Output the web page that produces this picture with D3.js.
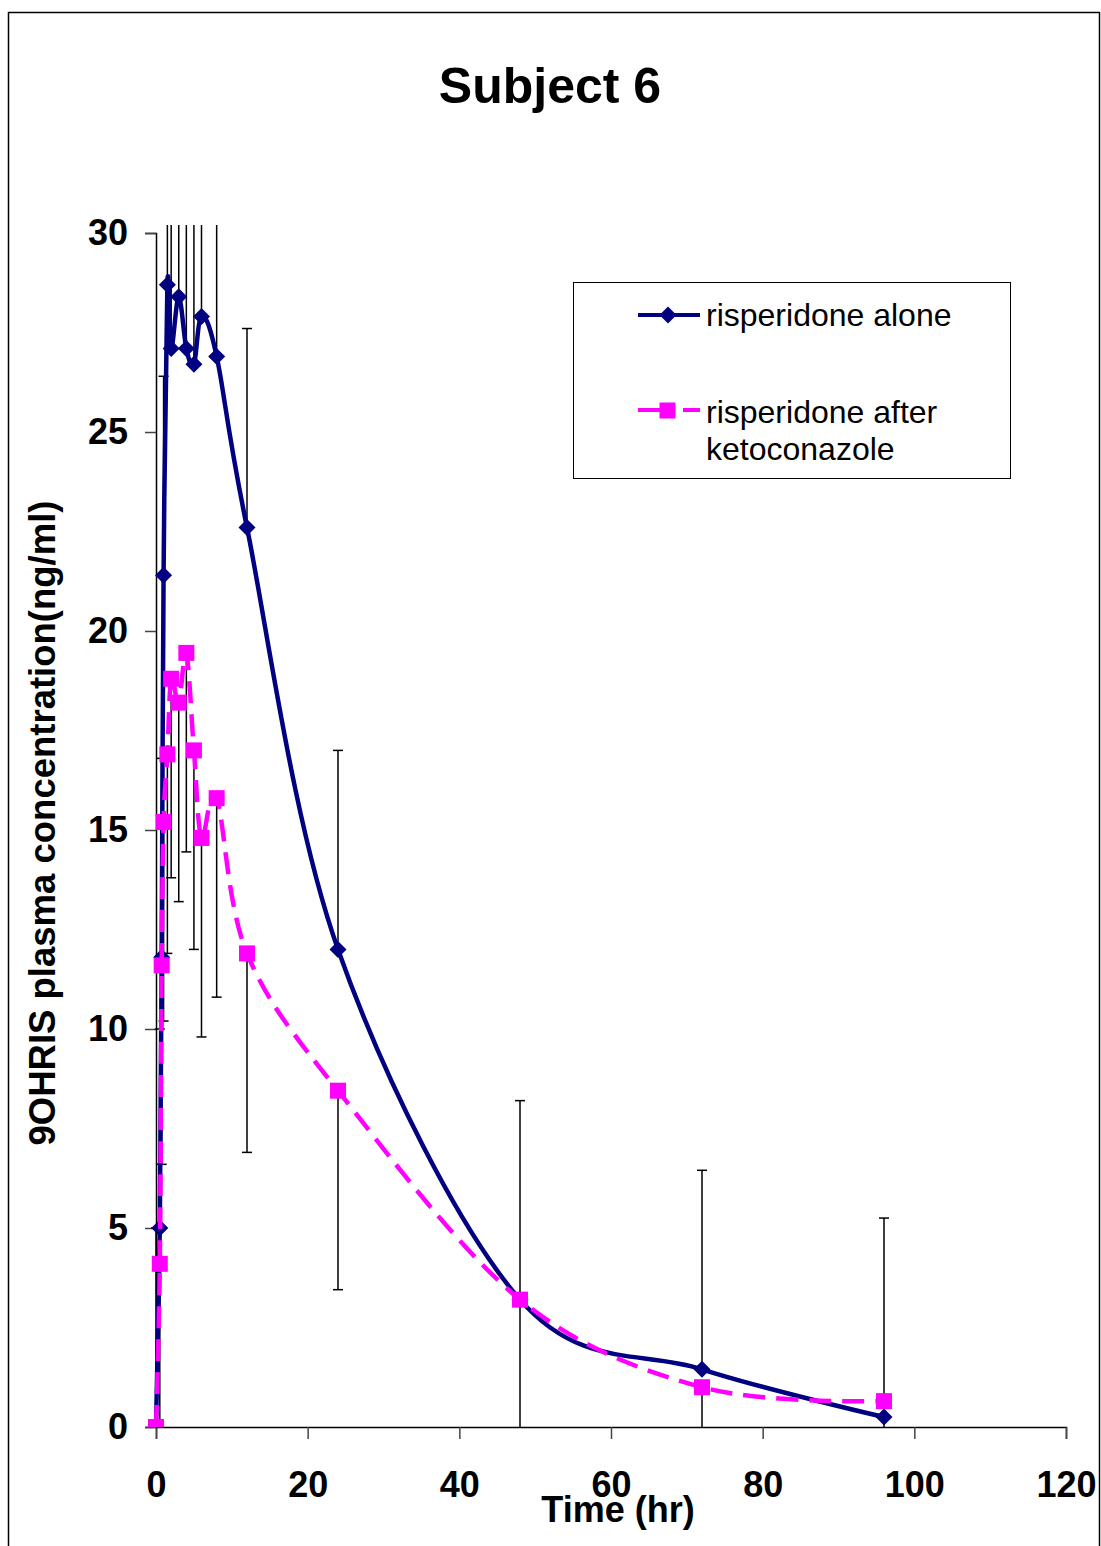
<!DOCTYPE html>
<html>
<head>
<meta charset="utf-8">
<script src="https://cdn.jsdelivr.net/npm/d3@7"></script>
<style>
  html, body { margin: 0; padding: 0; background: #fff; }
  svg { display: block; font-family: "Liberation Sans", Arial, sans-serif; }
</style>
</head>
<body>
<div id="chart"></div>
<script>
// sampling times (hr) and mean 9OHRIS concentrations (ng/ml)
const times = [0, 0.5, 0.75, 1, 1.5, 2, 3, 4, 5, 6, 8, 12, 24, 48, 72, 96];
const alone = [0, 5.0, 11.8, 21.4, 28.7, 27.1, 28.4, 27.1, 26.7, 27.9, 26.9, 22.6, 12.0, 3.2, 1.45, 0.25];
const afterKeto = [0, 4.1, 11.6, 15.2, 16.9, 18.8, 18.2, 19.45, 17.0, 14.8, 15.8, 11.9, 8.45, 3.2, 1.0, 0.65];
// error bars: plus for "alone", minus for "after ketoconazole"
const aloneErr = [5, 5, 5, 5, 5, 5, 5, 5, 5, 5, 5, 5, 5, 5, 5, 5];
const ketoErr = [5, 5, 5, 5, 5, 5, 5, 5, 5, 5, 5, 5, 5, 5, 5, 5];

const xTicks = [0, 20, 40, 60, 80, 100, 120];
const yTicks = [0, 5, 10, 15, 20, 25, 30];
const seriesNames = ["risperidone alone", "risperidone after", "ketoconazole"];

const W = 1101, H = 1546;
const svg = d3.select("#chart").append("svg")
    .attr("width", W).attr("height", H);

// outer frame
svg.append("rect")
    .attr("x", 8.5).attr("y", 12.5)
    .attr("width", 1091).attr("height", 1545)
    .attr("fill", "none").attr("stroke", "#000").attr("stroke-width", 1.5);

const x = d3.scaleLinear().domain([0, 120]).range([156, 1066]);
const y = d3.scaleLinear().domain([0, 30]).range([1427, 233]);

svg.append("text")
    .attr("x", 550).attr("y", 103)
    .attr("text-anchor", "middle")
    .attr("font-size", 50).attr("font-weight", "bold")
    .text("Subject 6");

// axes
const xAxis = svg.append("g")
    .attr("transform", `translate(0,${y(0)})`)
    .call(d3.axisBottom(x).tickValues(xTicks).tickSize(12).tickPadding(30));
const yAxis = svg.append("g")
    .attr("transform", `translate(${x(0)},0)`)
    .call(d3.axisLeft(y).tickValues(yTicks).tickSize(11).tickPadding(17));

[xAxis, yAxis].forEach(g => {
    g.select(".domain").attr("stroke", "#000").attr("stroke-width", 1.5);
    g.selectAll(".tick line").attr("stroke", "#444").attr("stroke-width", 1.5);
    g.selectAll(".tick text")
        .attr("font-size", 36).attr("font-weight", "bold")
        .attr("font-family", "Liberation Sans, Arial, sans-serif")
        .attr("fill", "#000");
});
xAxis.selectAll(".tick text").attr("dy", 0).attr("y", 70);

svg.append("text")
    .attr("x", 618).attr("y", 1522)
    .attr("text-anchor", "middle")
    .attr("font-size", 36).attr("font-weight", "bold")
    .text("Time (hr)");

svg.append("text")
    .attr("transform", "translate(55,823) rotate(-90)")
    .attr("text-anchor", "middle")
    .attr("font-size", 36.5).attr("font-weight", "bold")
    .text("9OHRIS plasma concentration(ng/ml)");

// plot clip
svg.append("clipPath").attr("id", "plotClip")
    .append("rect").attr("x", 140).attr("y", 225).attr("width", 940).attr("height", 1202);

const plot = svg.append("g").attr("clip-path", "url(#plotClip)");

// error bars
function errorBars(vals, errs, sign) {
    const g = plot.append("g").attr("stroke", "#000").attr("stroke-width", 1.5);
    vals.forEach((v, i) => {
        const end = v + sign * errs[i];
        const cx = x(times[i]);
        g.append("line")
            .attr("x1", cx).attr("x2", cx)
            .attr("y1", y(v)).attr("y2", y(Math.max(0, end)));
        if (end > 0 && end <= 30.2) {
            g.append("line")
                .attr("x1", cx - 5).attr("x2", cx + 5)
                .attr("y1", y(end)).attr("y2", y(end));
        }
    });
}
errorBars(alone, aloneErr, 1);
errorBars(afterKeto, ketoErr, -1);

const line = d3.line()
    .x((d, i) => x(times[i]))
    .y(d => y(d))
    .curve(d3.curveCardinal.tension(0));

const navy = "#000080", magenta = "#ff00ff";
const diamond = "M0,-8.5L8.5,0L0,8.5L-8.5,0Z";

plot.append("path").datum(alone)
    .attr("d", line)
    .attr("fill", "none").attr("stroke", navy).attr("stroke-width", 4.5);

plot.selectAll(".diamond").data(alone).enter().append("path")
    .attr("class", "diamond")
    .attr("transform", (d, i) => `translate(${x(times[i])},${y(d)})`)
    .attr("d", diamond)
    .attr("fill", navy);

plot.append("path").datum(afterKeto)
    .attr("d", line)
    .attr("fill", "none").attr("stroke", magenta).attr("stroke-width", 4.5)
    .attr("stroke-dasharray", "22,11");

plot.selectAll(".square").data(afterKeto).enter().append("rect")
    .attr("class", "square")
    .attr("x", (d, i) => x(times[i]) - 8)
    .attr("y", d => y(d) - 8)
    .attr("width", 16).attr("height", 16)
    .attr("fill", magenta);

// legend
const leg = svg.append("g");
leg.append("rect")
    .attr("x", 573.5).attr("y", 282.5)
    .attr("width", 437).attr("height", 196)
    .attr("fill", "#fff").attr("stroke", "#000").attr("stroke-width", 1);
leg.append("line")
    .attr("x1", 638).attr("x2", 700).attr("y1", 315).attr("y2", 315)
    .attr("stroke", navy).attr("stroke-width", 4);
leg.append("path")
    .attr("transform", "translate(668,315)")
    .attr("d", diamond).attr("fill", navy);
leg.append("line")
    .attr("x1", 638).attr("x2", 700).attr("y1", 410).attr("y2", 410)
    .attr("stroke", magenta).attr("stroke-width", 4)
    .attr("stroke-dasharray", "22,23,17");
leg.append("rect")
    .attr("x", 659.5).attr("y", 402.5).attr("width", 16).attr("height", 16)
    .attr("fill", magenta);
leg.append("text").attr("x", 706).attr("y", 326)
    .attr("font-size", 32).text(seriesNames[0]);
leg.append("text").attr("x", 706).attr("y", 423)
    .attr("font-size", 32).text(seriesNames[1]);
leg.append("text").attr("x", 706).attr("y", 460)
    .attr("font-size", 32).text(seriesNames[2]);
</script>
</body>
</html>
